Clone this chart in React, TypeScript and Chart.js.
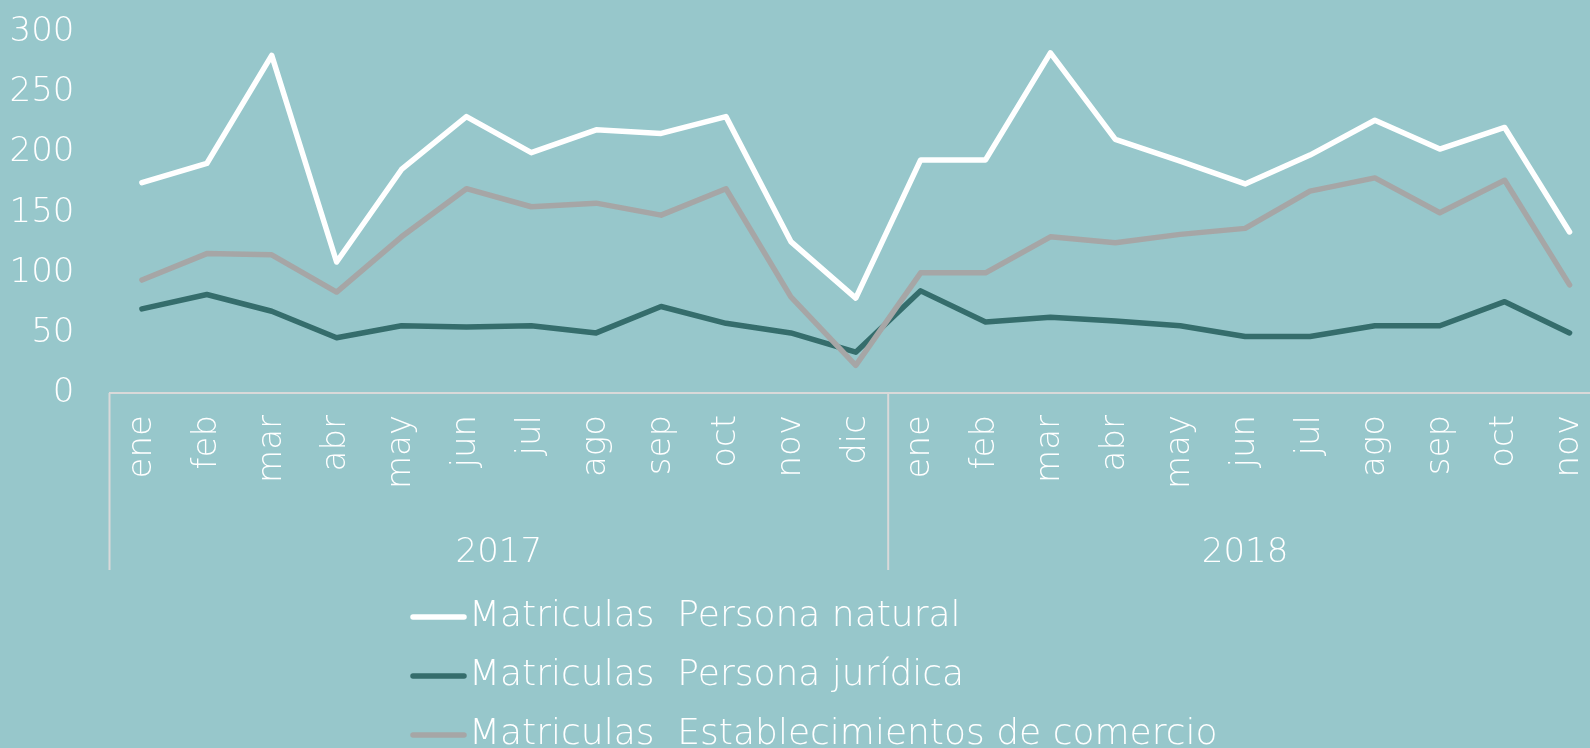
import React, { useEffect, useRef } from "react";
import { Chart, registerables } from "chart.js";

Chart.register(...registerables);

const months = ["ene","feb","mar","abr","may","jun","jul","ago","sep","oct","nov","dic","ene","feb","mar","abr","may","jun","jul","ago","sep","oct","nov"];
const years = ["2017", "2018"];
const yearSpans = [12, 11];
const personaNatural = [175,191,281,109,186,230,200,219,216,230,126,79, 194,194,283,211,193,174,198,227,203,221,134];
const personaJuridica = [70,82,68,46,56,55,56,50,72,58,50,34, 85,59,63,60,56,47,47,56,56,76,50];
const establecimientos = [94,116,115,84,130,170,155,158,148,170,80,23, 100,100,130,125,132,137,168,179,150,177,90];
const seriesNames = ["Matriculas  Persona natural", "Matriculas  Persona jurídica", "Matriculas  Establecimientos de comercio"];
const seriesColors = ["#FFFFFF", "#356D6C", "#A6A6A6"];
const yTicks = [0, 50, 100, 150, 200, 250, 300];

const BG = "#97C7CB";
const FONT = "'DejaVu Sans', sans-serif";
const AXIS_COLOR = "#D9D9D9";

export default function App() {
  const ref = useRef<HTMLCanvasElement | null>(null);

  useEffect(() => {
    document.body.style.margin = "0";
    document.body.style.overflow = "hidden";
    document.documentElement.style.overflow = "hidden";
    document.body.style.background = BG;
    const canvas = ref.current;
    if (!canvas) return;

    const groupPlugin = {
      id: "groupAxis",
      afterDraw(chart: any) {
        const ctx = chart.ctx;
        const xs = chart.scales.x;
        const top = xs.top;
        const bounds: number[] = [xs.left];
        let idx = 0;
        yearSpans.forEach((n, i) => {
          idx += n;
          if (i < yearSpans.length - 1) {
            bounds.push((xs.getPixelForValue(idx - 1) + xs.getPixelForValue(idx)) / 2);
          }
        });
        bounds.push(xs.right);
        ctx.save();
        ctx.strokeStyle = AXIS_COLOR;
        ctx.lineWidth = 2;
        for (let i = 0; i < bounds.length - 1; i++) {
          ctx.beginPath();
          ctx.moveTo(bounds[i], top);
          ctx.lineTo(bounds[i], top + 177);
          ctx.stroke();
        }
        ctx.fillStyle = "#FFFFFF";
        ctx.font = `200 34px ${FONT}`;
        ctx.textAlign = "center";
        ctx.textBaseline = "middle";
        years.forEach((y, i) => {
          ctx.fillText(y, (bounds[i] + bounds[i + 1]) / 2, top + 160);
        });
        // legend
        ctx.textAlign = "left";
        ctx.font = `200 36px ${FONT}`;
        seriesNames.forEach((name, i) => {
          const cy = 617 + i * 59;
          ctx.strokeStyle = seriesColors[i];
          ctx.lineWidth = 5.5;
          ctx.lineCap = "round";
          ctx.beginPath();
          ctx.moveTo(413, cy);
          ctx.lineTo(464, cy);
          ctx.stroke();
          ctx.fillStyle = "#FFFFFF";
          ctx.fillText(name, 469, cy);
        });
        ctx.restore();
      },
    };

    const chart = new Chart(canvas, {
      type: "line",
      data: {
        labels: months,
        datasets: [
          { label: seriesNames[0], data: personaNatural, borderColor: seriesColors[0], order: 1 },
          { label: seriesNames[1], data: personaJuridica, borderColor: seriesColors[1], order: 2 },
          { label: seriesNames[2], data: establecimientos, borderColor: seriesColors[2], order: 0 },
        ].map((d) => ({
          ...d,
          borderWidth: 5.5,
          pointRadius: 0,
          tension: 0,
          fill: false,
          borderCapStyle: "round" as const,
          borderJoinStyle: "round" as const,
        })),
      },
      options: {
        animation: false,
        responsive: false,
        maintainAspectRatio: false,
        layout: { padding: { left: 0, right: 0, top: 32.5, bottom: 197 } },
        plugins: { legend: { display: false }, tooltip: { enabled: false } },
        scales: {
          x: {
            offset: true,
            grid: { display: false, drawTicks: false },
            border: { display: true, color: AXIS_COLOR, width: 2 },
            ticks: {
              color: "#FFFFFF",
              font: { family: FONT, size: 34, weight: "200" as any },
              maxRotation: 90,
              minRotation: 90,
              autoSkip: false,
              padding: 22,
            },
            afterFit: (s: any) => {
              s.height = 180;
              s.paddingLeft = 0;
              s.paddingRight = 0;
            },
          },
          y: {
            min: 0,
            max: 300,
            grid: { display: false, drawTicks: false },
            border: { display: false },
            afterBuildTicks: (s: any) => { s.ticks = yTicks.map((v) => ({ value: v })); },
            ticks: {
              color: "#FFFFFF",
              font: { family: FONT, size: 34, weight: "200" as any },
              padding: 35,
            },
            afterFit: (s: any) => {
              s.width = 109.5;
              s.paddingTop = 0;
              s.paddingBottom = 0;
            },
          },
        },
      },
      plugins: [groupPlugin],
    });
    return () => chart.destroy();
  }, []);

  return (
    <div style={{ position: "relative", width: 1590, height: 748, overflow: "hidden", background: BG }}>
      <canvas ref={ref} width={1602} height={770} style={{ position: "absolute", left: 0, top: 0, width: 1602, height: 770 }} />
    </div>
  );
}
